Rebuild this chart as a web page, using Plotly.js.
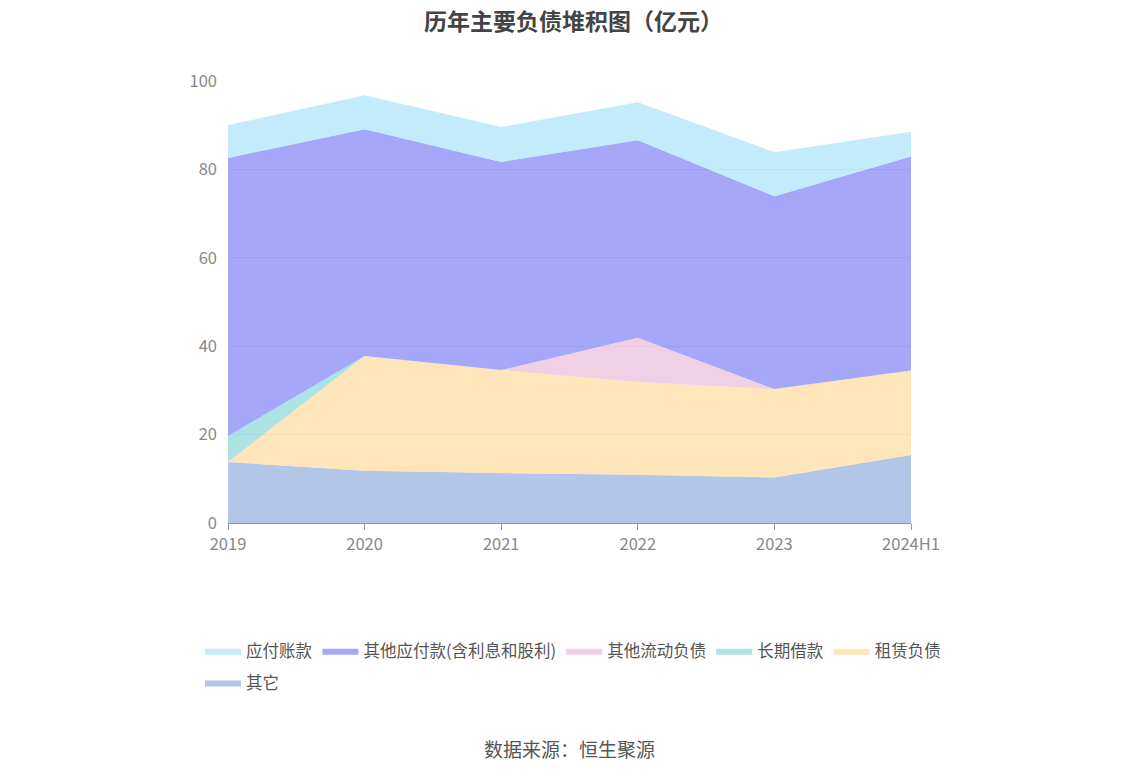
<!DOCTYPE html>
<html>
<head>
<meta charset="utf-8">
<script src="https://cdn.plot.ly/plotly-3.0.1.min.js"></script>
<style>html,body{margin:0;padding:0;background:#fff;}#chart{width:1147px;height:776px;}</style>
</head>
<body>
<div id="chart"></div>
<script>
var years = ["2019", "2020", "2021", "2022", "2023", "2024H1"];
var qita = [13.8, 11.8, 11.3, 10.9, 10.3, 15.4];            // 其它
var zulin = [0, 26.0, 23.3, 21.0, 20.0, 19.1];              // 租赁负债
var changqi = [5.9, 0, 0, 0, 0, 0];                         // 长期借款
var liudong = [0, 0, 0, 10.0, 0, 0];                        // 其他流动负债
var qitayingfu = [62.9, 51.3, 47.1, 44.7, 43.6, 48.4];      // 其他应付款(含利息和股利)
var yingfu = [7.4, 7.7, 7.9, 8.6, 10.0, 5.6];               // 应付账款

var seriesNames = ["其它", "租赁负债", "长期借款", "其他流动负债", "其他应付款(含利息和股利)", "应付账款"];
var seriesData = [qita, zulin, changqi, liudong, qitayingfu, yingfu];
var fills = ["rgba(142,172,219,0.68)", "rgba(253,216,154,0.68)", "rgba(134,213,217,0.68)", "rgba(232,185,217,0.68)", "rgba(123,127,245,0.68)", "rgba(166,225,250,0.68)"];
var solid = ["#8eacdb", "#fdd89a", "#86d5d9", "#e8b9d9", "#7b7ff5", "#a6e1fa"];

var traces = seriesNames.map(function(n, i) {
  return {
    x: years, y: seriesData[i], name: n, type: "scatter", mode: "lines",
    stackgroup: "one", line: {width: 0, color: solid[i]}, fillcolor: fills[i],
    legend: i === 0 ? "legend2" : "legend",
    hoverinfo: "x+y+name"
  };
});

var legendFont = {size: 16.5, color: "#555"};
var layout = {
  width: 1147, height: 776,
  margin: {l: 228, r: 236, t: 81, b: 253},
  paper_bgcolor: "#fff", plot_bgcolor: "#fff",
  font: {family: "'Noto Sans CJK SC', 'Noto Sans', sans-serif", color: "#555"},
  title: {text: "<b>历年主要负债堆积图（亿元）</b>", x: 0.5, xanchor: "center", y: 0.972, yanchor: "middle",
          font: {size: 23, color: "#444"}},
  xaxis: {type: "category", range: [0, 5], showgrid: false, showline: true, linecolor: "#8c96a8", linewidth: 1,
          ticks: "outside", ticklen: 6, tickcolor: "#8c96a8", tickfont: {size: 16.5, color: "#888"}, zeroline: false},
  yaxis: {range: [0, 100], tickvals: [0, 20, 40, 60, 80, 100], showgrid: true, gridcolor: "#e3e5ea",
          zeroline: false, showline: false, tickfont: {size: 16.5, color: "#888"}, ticklabelstandoff: 10},
  showlegend: true,
  legend: {orientation: "h", traceorder: "reversed", x: -0.041, xanchor: "left", y: -0.25, yanchor: "top",
           font: legendFont, itemwidth: 36},
  legend2: {orientation: "h", x: -0.041, xanchor: "left", y: -0.322, yanchor: "top",
           font: legendFont, itemwidth: 36},
  annotations: [{text: "数据来源：恒生聚源", xref: "paper", yref: "paper", x: 0.5, y: -0.51, xanchor: "center", yanchor: "middle",
                 showarrow: false, font: {size: 19, color: "#555"}}]
};

Plotly.newPlot("chart", traces, layout, {displayModeBar: false, responsive: false});
</script>
</body>
</html>
